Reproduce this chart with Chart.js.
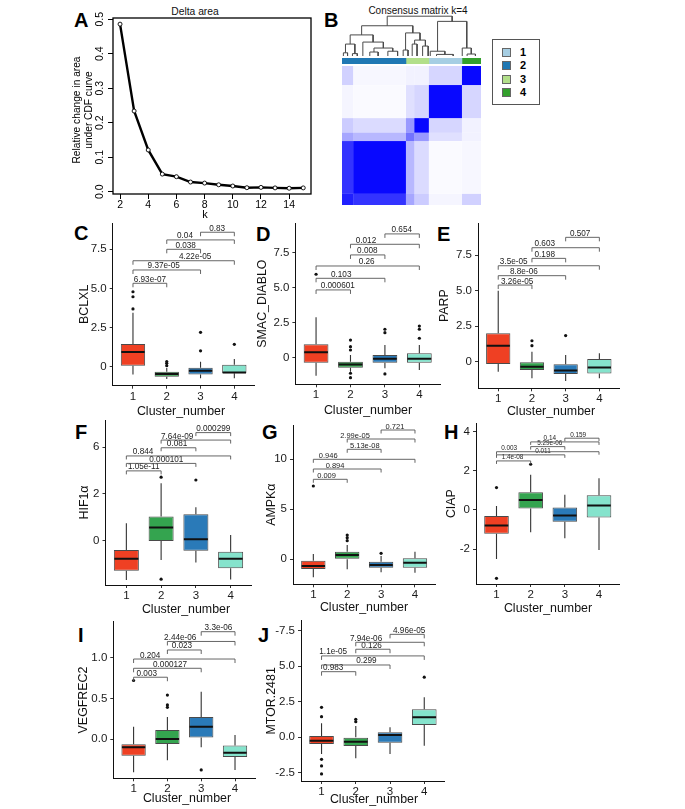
<!DOCTYPE html>
<html>
<head>
<meta charset="utf-8">
<script src="https://cdn.jsdelivr.net/npm/chart.js@4.4.1/dist/chart.umd.min.js"></script>
<style>
html, body { margin: 0; padding: 0; background: #fff; }
body { width: 685px; height: 809px; position: relative; overflow: hidden; font-family: "Liberation Sans", Arial, sans-serif; }
canvas { position: absolute; }
.letter { position: absolute; font-weight: bold; font-size: 20px; line-height: 20px; color: #000; }
.ttl { position: absolute; white-space: nowrap; color: #111; transform: translate(-50%, -50%); }
#legend { position: absolute; left: 492px; top: 39px; width: 48px; height: 66px; border: 1px solid #555; box-sizing: border-box; }
.lg-row { position: absolute; left: 0; height: 12px; }
.lg-sq { position: absolute; left: 9px; top: 1px; width: 9px; height: 9px; border: 1px solid #666; box-sizing: border-box; }
.lg-tx { position: absolute; left: 27px; top: -1px; font-size: 11px; font-weight: bold; line-height: 12px; }
</style>
</head>
<body>
<div class="letter" style="left:74px;top:10px">A</div>
<div class="letter" style="left:324px;top:10px">B</div>
<div class="letter" style="left:74px;top:223px">C</div>
<div class="letter" style="left:256px;top:224px">D</div>
<div class="letter" style="left:437px;top:224px">E</div>
<div class="letter" style="left:75px;top:422px">F</div>
<div class="letter" style="left:262px;top:422px">G</div>
<div class="letter" style="left:444px;top:422px">H</div>
<div class="letter" style="left:78px;top:625px">I</div>
<div class="letter" style="left:258px;top:625px">J</div>
<div class="ttl" style="left:195px;top:11px;font-size:10.3px">Delta area</div>
<div class="ttl" style="left:418px;top:10px;font-size:10px">Consensus matrix k=4</div>
<div id="legend"></div>
<script>
// ---- panel A: delta area ----
const kValues = [2, 3, 4, 5, 6, 7, 8, 9, 10, 11, 12, 13, 14, 15];
const deltaArea = [0.486, 0.234, 0.121, 0.051, 0.0435, 0.028, 0.025, 0.020, 0.0165, 0.0116, 0.0125, 0.011, 0.010, 0.011];
const kTicks = [2, 4, 6, 8, 10, 12, 14];
const deltaTicks = [0, 0.1, 0.2, 0.3, 0.4, 0.5];
const deltaTickLabels = ['0.0', '0.1', '0.2', '0.3', '0.4', '0.5'];

// ---- panel B: consensus matrix ----
const clusterOrder = [2, 3, 1, 4];
const clusterShare = [46, 16.5, 23.8, 13.7];
const clusterColors = {1: '#A6CEE3', 2: '#1F78B4', 3: '#B2DF8A', 4: '#33A02C'};
const matrixGroupShare = [8, 38, 6, 10.5, 23.8, 13.7];
const consensus = [
  [0.88, 0.80, 0.35, 0.20, 0.04, 0.18],
  [0.80, 0.97, 0.28, 0.14, 0.02, 0.03],
  [0.35, 0.28, 0.55, 0.40, 0.12, 0.05],
  [0.20, 0.14, 0.40, 0.97, 0.16, 0.05],
  [0.04, 0.02, 0.12, 0.16, 0.97, 0.16],
  [0.18, 0.03, 0.05, 0.05, 0.16, 0.97]
];
const dendroLeafX = [1, 4, 7.5, 11, 15, 20, 26, 33, 40, 44, 47.5, 50.5, 54, 58, 62, 63.5, 68, 80, 86.5, 90, 96];
const dendroMerges = [
  ['L0', 'L1', 0.08], ['L2', 'L3', 0.06], ['N0', 'N1', 0.3], ['L5', 'L6', 0.1],
  ['L7', 'L8', 0.12], ['N3', 'N4', 0.2], ['L4', 'N5', 0.35], ['N2', 'N6', 0.53],
  ['L9', 'L10', 0.15], ['L11', 'L12', 0.3], ['L13', 'L14', 0.25], ['N9', 'N10', 0.4],
  ['N8', 'N11', 0.58], ['N7', 'N12', 0.76], ['L16', 'L17', 0.04], ['L15', 'N14', 0.12],
  ['L19', 'L20', 0.05], ['L18', 'N16', 0.2], ['N15', 'N17', 0.87], ['N13', 'N18', 1.0]
];

// ---- boxplots: [lower whisker, q1, median, q3, upper whisker] per cluster ----
const clusters = [1, 2, 3, 4];
const boxColors = ['#EF4023', '#34A44F', '#2A7AB8', '#85E3CC'];
const comparisons = [[1, 2], [1, 3], [1, 4], [2, 3], [2, 4], [3, 4]];

const bclxlBox = [[-0.49, 0.07, 0.94, 1.45, 3.45], [-0.79, -0.64, -0.47, -0.32, -0.08], [-0.74, -0.49, -0.26, -0.06, 0.32], [-0.74, -0.42, -0.36, 0.13, 0.49]];
const bclxlOut = [[3.69, 4.47, 4.79], [0.07, 0.22, 0.33], [1.02, 2.2], [1.43]];
const bclxlP = ['6.93e-07', '9.37e-05', '4.22e-05', '0.038', '0.04', '0.83'];
const bclxlBracketY = [5.33, 6.18, 6.77, 7.50, 8.10, 8.59];
const bclxlLabelX = [1.5, 1.91, 2.84, 2.56, 2.54, 3.49];
const bclxlTicks = [0, 2.5, 5, 7.5];
const bclxlTickLabels = ['0', '2.5', '5.0', '7.5'];

const smacBox = [[-1.29, -0.36, 0.39, 0.96, 2.89], [-1.0, -0.71, -0.48, -0.29, 0.19], [-0.76, -0.36, -0.07, 0.19, 0.9], [-0.88, -0.36, -0.07, 0.31, 0.9]];
const smacOut = [[5.96], [1.26, 0.79, 0.55, -1.11, -1.43], [2.03, 1.79, -1.16], [2.26, 2.03, 1.39]];
const smacP = ['0.000601', '0.103', '0.26', '0.008', '0.012', '0.654'];
const smacBracketY = [4.84, 5.67, 6.55, 7.34, 8.1, 8.84];
const smacLabelX = [1.63, 1.73, 2.47, 2.49, 2.45, 3.49];
const smacTicks = [0, 2.5, 5, 7.5];
const smacTickLabels = ['0', '2.5', '5.0', '7.5'];

const parpBox = [[-0.7, -0.16, 1.13, 2.0, 5.0], [-1.17, -0.58, -0.35, -0.04, 0.7], [-1.36, -0.87, -0.61, -0.18, 0.47], [-1.17, -0.82, -0.4, 0.19, 0.59]];
const parpOut = [[], [1.48, 1.13], [1.84], []];
const parpP = ['3.26e-05', '8.8e-06', '3.5e-05', '0.198', '0.603', '0.507'];
const parpBracketY = [5.40, 6.06, 6.76, 7.28, 8.03, 8.76];
const parpLabelX = [1.56, 1.76, 1.46, 2.38, 2.38, 3.43];
const parpTicks = [0, 2.5, 5, 7.5];
const parpTickLabels = ['0', '2.5', '5.0', '7.5'];

const hifBox = [[-1.69, -1.29, -0.77, -0.4, 0.75], [-0.83, -0.01, 0.56, 1.03, 2.46], [-0.94, -0.43, 0.06, 1.13, 1.43], [-1.66, -1.18, -0.77, -0.47, 0.24]];
const hifOut = [[], [2.72, -1.65], [2.6], []];
const hifP = ['1.05e-11', '0.000101', '0.844', '0.081', '7.64e-09', '0.000299'];
const hifBracketY = [2.99, 3.31, 3.63, 3.98, 4.31, 4.63];
const hifLabelX = [1.5, 2.15, 1.48, 2.46, 2.46, 3.5];
const hifTicks = [0, 2, 4];
const hifTickLabels = ['0', '2', '6'];

const ampkBox = [[-1.8, -0.97, -0.67, -0.14, 0.53], [-1.0, 0.0, 0.43, 0.76, 1.43], [-1.3, -0.84, -0.57, -0.24, 0.33], [-1.34, -0.84, -0.34, 0.1, 0.76]];
const ampkOut = [[7.33], [2.43, 2.16, 1.86], [0.6], []];
const ampkP = ['0.009', '0.894', '0.946', '5.13e-08', '2.99e-05', '0.721'];
const ampkBracketY = [8.0, 9.03, 10.0, 11.0, 12.03, 12.93];
const ampkLabelX = [1.39, 1.64, 1.44, 2.52, 2.23, 3.41];
const ampkTicks = [0, 5, 10];
const ampkTickLabels = ['0', '5', '10'];

const ciapBox = [[-2.5, -1.22, -0.8, -0.31, 0.2], [-1.14, 0.07, 0.51, 0.9, 1.79], [-1.44, -0.6, -0.29, 0.12, 0.77], [-2.04, -0.39, 0.22, 0.75, 1.62]];
const ciapOut = [[1.14, -3.49], [2.33], [], []];
const ciapP = ['1.4e-08', '0.011', '0.003', '5.29e-06', '0.14', '0.159'];
const ciapBracketY = [2.5, 2.81, 2.97, 3.23, 3.47, 3.66];
const ciapLabelX = [1.47, 2.36, 1.37, 2.56, 2.56, 3.39];
const ciapTicks = [-2, 0, 2, 4];
const ciapTickLabels = ['-2', '0', '2', '4'];

const vegfBox = [[-0.41, -0.205, -0.1, -0.065, 0.15], [-0.26, -0.06, 0.0, 0.11, 0.27], [-0.1, 0.02, 0.15, 0.27, 0.58], [-0.38, -0.22, -0.17, -0.08, 0.05]];
const vegfOut = [[0.72], [0.54, 0.42, 0.39], [-0.38], []];
const vegfP = ['0.003', '0.000127', '0.204', '0.023', '2.44e-06', '3.3e-06'];
const vegfBracketY = [0.76, 0.87, 0.984, 1.095, 1.20, 1.32];
const vegfLabelX = [1.39, 2.08, 1.49, 2.43, 2.38, 3.51];
const vegfTicks = [0, 0.5, 1];
const vegfTickLabels = ['0.0', '0.5', '1.0'];

const mtorBox = [[-1.18, -0.47, -0.24, 0.09, 0.99], [-1.48, -0.61, -0.31, 0.0, 0.8], [-1.18, -0.38, 0.16, 0.35, 0.7], [-0.59, 0.87, 1.41, 1.97, 2.82]];
const mtorOut = [[2.11, 1.45, -1.55, -2.02, -2.58], [1.27, 1.1], [], [4.23]];
const mtorP = ['0.983', '0.299', '1.1e-05', '0.126', '7.94e-06', '4.96e-05'];
const mtorBracketY = [4.62, 5.09, 5.73, 6.2, 6.69, 7.25];
const mtorLabelX = [1.34, 2.31, 1.34, 2.46, 2.3, 3.56];
const mtorTicks = [-2.5, 0, 2.5, 5, 7.5];
const mtorTickLabels = ['-2.5', '0.0', '2.5', '5.0', '-7.5'];

const FONT = '"Liberation Sans", Arial, sans-serif';
Chart.defaults.font.family = FONT;
Chart.defaults.color = '#1a1a1a';
Chart.defaults.animation = false;
Chart.defaults.responsive = false;
Chart.defaults.plugins.legend.display = false;
Chart.defaults.plugins.tooltip.enabled = false;

function addCanvas(left, top, w, h) {
  const c = document.createElement('canvas');
  c.width = w; c.height = h;
  c.style.left = left + 'px'; c.style.top = top + 'px';
  c.style.width = w + 'px'; c.style.height = h + 'px';
  document.body.appendChild(c);
  return c;
}

// legend of panel B
const legend = document.getElementById('legend');
[1, 2, 3, 4].forEach((c, i) => {
  const row = document.createElement('div');
  row.className = 'lg-row';
  row.style.top = (7 + i * 13.3) + 'px';
  row.innerHTML = '<div class="lg-sq" style="background:' + clusterColors[c] + '"></div><div class="lg-tx">' + c + '</div>';
  legend.appendChild(row);
});

// ---------- panel A ----------
const aLeft = 40, aTop = 0, aW = 290, aH = 225;
const aArea = {L: 113, T: 18, R: 311, B: 194};
const deltaDecor = {
  id: 'deltaDecor',
  afterDraw(chart) {
    const {ctx, chartArea: a, scales: {y}} = chart;
    ctx.save();
    ctx.strokeStyle = '#000';
    ctx.lineWidth = 1.3;
    ctx.strokeRect(a.left, a.top, a.right - a.left, a.bottom - a.top);
    ctx.fillStyle = '#000';
    ctx.font = '10.5px ' + FONT;
    ctx.textAlign = 'center';
    ctx.textBaseline = 'bottom';
    deltaTicks.forEach((v, i) => {
      ctx.save();
      ctx.translate(a.left - 8, y.getPixelForValue(v));
      ctx.rotate(-Math.PI / 2);
      ctx.fillText(deltaTickLabels[i], 0, 0);
      ctx.restore();
    });
    ctx.font = '11px ' + FONT;
    ctx.textBaseline = 'middle';
    ctx.fillText('k', 205 - aLeft, 215 - aTop);
    ctx.font = '10.2px ' + FONT;
    [['Relative change in area', 77], ['under CDF curve', 89]].forEach(([t, px]) => {
      ctx.save();
      ctx.translate(px - aLeft, 110 - aTop);
      ctx.rotate(-Math.PI / 2);
      ctx.fillText(t, 0, 0);
      ctx.restore();
    });
    ctx.restore();
  }
};
new Chart(addCanvas(aLeft, aTop, aW, aH), {
  type: 'line',
  data: {datasets: [{
    data: kValues.map((k, i) => ({x: k, y: deltaArea[i]})),
    borderColor: '#000', borderWidth: 2.4, tension: 0,
    pointRadius: 2, pointBackgroundColor: '#fff', pointBorderColor: '#000', pointBorderWidth: 0.9
  }]},
  options: {
    layout: {padding: {left: 0, top: aArea.T - aTop, right: aLeft + aW - aArea.R, bottom: 0}},
    scales: {
      x: {
        type: 'linear', min: 1.5, max: 15.55,
        afterBuildTicks: s => { s.ticks = kTicks.map(v => ({value: v})); },
        afterFit: s => { s.height = aTop + aH - aArea.B; },
        ticks: {font: {size: 10.5}, color: '#000', padding: 0, maxRotation: 0},
        grid: {drawOnChartArea: false, tickLength: 5, color: '#000'},
        border: {display: false}
      },
      y: {
        type: 'linear', min: -0.0067, max: 0.5038,
        afterBuildTicks: s => { s.ticks = deltaTicks.map(v => ({value: v})); },
        afterFit: s => { s.width = aArea.L - aLeft; },
        ticks: {display: false},
        grid: {drawOnChartArea: false, tickLength: 5, color: '#000'},
        border: {display: false}
      }
    }
  },
  plugins: [deltaDecor]
});

// ---------- panel B ----------
const hmLeft = 342, hmW = 139;
// dendrogram
const nodeX = {}, nodeH = {};
dendroLeafX.forEach((x, i) => { nodeX['L' + i] = x; nodeH['L' + i] = 0; });
dendroMerges.forEach(([a, b, h], i) => { nodeX['N' + i] = (nodeX[a] + nodeX[b]) / 2; nodeH['N' + i] = h; });
new Chart(addCanvas(hmLeft, 15, hmW, 43), {
  type: 'scatter',
  data: {datasets: dendroMerges.map(([a, b, h]) => ({
    data: [{x: nodeX[a], y: nodeH[a]}, {x: nodeX[a], y: h}, {x: nodeX[b], y: h}, {x: nodeX[b], y: nodeH[b]}],
    showLine: true, borderColor: '#4a4a4a', borderWidth: 1, pointRadius: 0, clip: false
  }))},
  options: {
    layout: {padding: 0},
    scales: {x: {display: false, min: 0, max: 100}, y: {display: false, min: -0.05, max: 1.03}}
  }
});
// cluster colour bar
new Chart(addCanvas(hmLeft, 58, hmW, 6), {
  type: 'bar',
  data: {labels: [''], datasets: clusterOrder.map((c, i) => ({
    data: [clusterShare[i]], backgroundColor: clusterColors[c], borderWidth: 0,
    barPercentage: 1, categoryPercentage: 1
  }))},
  options: {
    indexAxis: 'y',
    layout: {padding: 0},
    scales: {x: {display: false, stacked: true, min: 0, max: 100}, y: {display: false, stacked: true}}
  }
});
// heatmap
const groupStart = [];
matrixGroupShare.reduce((acc, v) => { groupStart.push(acc); return acc + v; }, 0);
const heatCells = {
  id: 'heatCells',
  beforeDatasetsDraw(chart) {
    const {ctx, scales: {x, y}} = chart;
    ctx.save();
    consensus.forEach((row, i) => row.forEach((v, j) => {
      const x0 = x.getPixelForValue(groupStart[j]), x1 = x.getPixelForValue(groupStart[j] + matrixGroupShare[j]);
      const y0 = y.getPixelForValue(groupStart[i]), y1 = y.getPixelForValue(groupStart[i] + matrixGroupShare[i]);
      ctx.fillStyle = 'rgba(0,0,255,' + v + ')';
      ctx.fillRect(x0, Math.min(y0, y1), x1 - x0, Math.abs(y1 - y0));
    }));
    ctx.restore();
  }
};
new Chart(addCanvas(hmLeft, 66, hmW, 139), {
  type: 'scatter',
  data: {datasets: [{data: []}]},
  options: {
    layout: {padding: 0},
    scales: {x: {display: false, min: 0, max: 100}, y: {display: false, min: 0, max: 100}}
  },
  plugins: [heatCells]
});

// ---------- boxplot panels ----------
const boxPanels = [
  {title: 'BCLXL', box: bclxlBox, out: bclxlOut, p: bclxlP, bracketY: bclxlBracketY, labelX: bclxlLabelX, ticks: bclxlTicks, tickLabels: bclxlTickLabels, yMin: -1.21, yMax: 9.18,
   lay: {L: 112.7, T: 223, R: 254.6, B: 385.7, yTitleX: 85, xTitleX: 181, xTitleY: 412, pFont: 8.2, tip: 4}},
  {title: 'SMAC_DIABLO', box: smacBox, out: smacOut, p: smacP, bracketY: smacBracketY, labelX: smacLabelX, ticks: smacTicks, tickLabels: smacTickLabels, yMin: -1.9, yMax: 9.62,
   lay: {L: 295.4, T: 223, R: 440, B: 384.3, yTitleX: 263, xTitleX: 368, xTitleY: 410.5, pFont: 8.2, tip: 4}},
  {title: 'PARP', box: parpBox, out: parpOut, p: parpP, bracketY: parpBracketY, labelX: parpLabelX, ticks: parpTicks, tickLabels: parpTickLabels, yMin: -1.87, yMax: 9.77,
   lay: {L: 478, T: 223, R: 619.6, B: 388.3, yTitleX: 445, xTitleX: 551, xTitleY: 412, pFont: 8.2, tip: 4}},
  {title: 'HIF1α', box: hifBox, out: hifOut, p: hifP, bracketY: hifBracketY, labelX: hifLabelX, ticks: hifTicks, tickLabels: hifTickLabels, yMin: -1.9, yMax: 5.17,
   lay: {L: 105.5, T: 420, R: 251.5, B: 585, yTitleX: 85, xTitleX: 186, xTitleY: 610, pFont: 8.2, tip: 3.5}},
  {title: 'AMPKα', box: ampkBox, out: ampkOut, p: ampkP, bracketY: ampkBracketY, labelX: ampkLabelX, ticks: ampkTicks, tickLabels: ampkTickLabels, yMin: -2.5, yMax: 13.43,
   lay: {L: 293, T: 425, R: 435.3, B: 584.3, yTitleX: 272, xTitleX: 364, xTitleY: 608, pFont: 7.5, tip: 3.5}},
  {title: 'CIAP', box: ciapBox, out: ciapOut, p: ciapP, bracketY: ciapBracketY, labelX: ciapLabelX, ticks: ciapTicks, tickLabels: ciapTickLabels, yMin: -3.78, yMax: 4.42,
   lay: {L: 476, T: 423.3, R: 619.5, B: 584, yTitleX: 451.7, xTitleX: 548, xTitleY: 609, pFont: 6.4, tip: 3}},
  {title: 'VEGFREC2', box: vegfBox, out: vegfOut, p: vegfP, bracketY: vegfBracketY, labelX: vegfLabelX, ticks: vegfTicks, tickLabels: vegfTickLabels, yMin: -0.483, yMax: 1.443,
   lay: {L: 113.3, T: 621.7, R: 255.3, B: 778.3, yTitleX: 84, xTitleX: 187, xTitleY: 799, pFont: 8.2, tip: 4}},
  {title: 'MTOR.2481', box: mtorBox, out: mtorOut, p: mtorP, bracketY: mtorBracketY, labelX: mtorLabelX, ticks: mtorTicks, tickLabels: mtorTickLabels, yMin: -3.08, yMax: 8.21,
   lay: {L: 301, T: 620.7, R: 444.8, B: 781, yTitleX: 272, xTitleX: 374, xTitleY: 800, pFont: 8.2, tip: 4}}
];

function boxDecor(d, left, top) {
  return {
    id: 'boxDecor',
    beforeDatasetsDraw(chart) {
      const {ctx, scales: {x, y}} = chart;
      ctx.save();
      ctx.strokeStyle = '#333';
      ctx.lineWidth = 1.1;
      ctx.beginPath();
      d.box.forEach((b, i) => {
        const px = x.getPixelForValue(clusters[i]);
        ctx.moveTo(px, y.getPixelForValue(b[0])); ctx.lineTo(px, y.getPixelForValue(b[1]));
        ctx.moveTo(px, y.getPixelForValue(b[3])); ctx.lineTo(px, y.getPixelForValue(b[4]));
      });
      ctx.stroke();
      ctx.restore();
    },
    afterDatasetsDraw(chart) {
      const {ctx, scales: {x, y}} = chart;
      const bars = chart.getDatasetMeta(0).data;
      ctx.save();
      ctx.strokeStyle = '#111';
      ctx.lineWidth = 2;
      ctx.beginPath();
      bars.forEach((bar, i) => {
        const py = y.getPixelForValue(d.box[i][2]);
        ctx.moveTo(bar.x - bar.width / 2 + 0.5, py); ctx.lineTo(bar.x + bar.width / 2 - 0.5, py);
      });
      ctx.stroke();
      // significance brackets
      ctx.strokeStyle = '#555';
      ctx.lineWidth = 0.9;
      ctx.fillStyle = '#222';
      ctx.font = d.lay.pFont + 'px ' + FONT;
      ctx.textAlign = 'center';
      ctx.textBaseline = 'alphabetic';
      comparisons.forEach(([a, b], j) => {
        const xa = x.getPixelForValue(a), xb = x.getPixelForValue(b), py = y.getPixelForValue(d.bracketY[j]);
        ctx.beginPath();
        ctx.moveTo(xa, py + d.lay.tip); ctx.lineTo(xa, py); ctx.lineTo(xb, py); ctx.lineTo(xb, py + d.lay.tip);
        ctx.stroke();
        ctx.fillText(d.p[j], x.getPixelForValue(d.labelX[j]), py - 1.5);
      });
      ctx.restore();
    },
    afterDraw(chart) {
      const {ctx} = chart;
      const L = d.lay;
      ctx.save();
      ctx.fillStyle = '#111';
      ctx.font = '12.4px ' + FONT;
      ctx.textAlign = 'center';
      ctx.textBaseline = 'middle';
      ctx.fillText('Cluster_number', L.xTitleX - left, L.xTitleY - top);
      ctx.translate(L.yTitleX - left, (L.T + L.B) / 2 - top);
      ctx.rotate(-Math.PI / 2);
      ctx.fillText(d.title, 0, 0);
      ctx.restore();
    }
  };
}

boxPanels.forEach(d => {
  const L = d.lay;
  const left = Math.round(L.L - 60), top = Math.round(L.T - 12);
  const width = Math.round(L.R + 8 - left), height = Math.round(L.B + 42 - top);
  const bars = clusters.map((c, i) => ({x: c, y: [d.box[i][1], d.box[i][3]]}));
  const pts = [];
  d.out.forEach((arr, i) => arr.forEach(v => pts.push({x: clusters[i], y: v})));
  const axisCommon = {
    grid: {display: true, drawOnChartArea: false, drawTicks: true, tickLength: 3, color: '#333', offset: false},
    border: {display: true, color: '#111', width: 1}
  };
  new Chart(addCanvas(left, top, width, height), {
    type: 'bar',
    data: {datasets: [
      {type: 'bar', data: bars, backgroundColor: boxColors, borderColor: '#4a4a4a', borderWidth: 1,
       borderSkipped: false, barPercentage: 0.72, categoryPercentage: 1, order: 2},
      {type: 'scatter', data: pts, pointRadius: 1.6, pointBackgroundColor: '#111', pointBorderWidth: 0, order: 1}
    ]},
    options: {
      layout: {padding: {left: 0, top: L.T - top, right: left + width - L.R, bottom: 0}},
      scales: {
        x: Object.assign({
          type: 'linear', min: 0.4, max: 4.6, offset: false,
          afterBuildTicks: s => { s.ticks = clusters.map(v => ({value: v})); },
          afterFit: s => { s.height = top + height - L.B; },
          ticks: {font: {size: 11.5}, color: '#1a1a1a', padding: 1, maxRotation: 0}
        }, axisCommon),
        y: Object.assign({
          type: 'linear', min: d.yMin, max: d.yMax,
          afterBuildTicks: s => { s.ticks = d.ticks.map(v => ({value: v})); },
          afterFit: s => { s.width = L.L - left; },
          ticks: {font: {size: 11.5}, color: '#1a1a1a', padding: 3, callback: (v, i) => d.tickLabels[i]}
        }, axisCommon)
      }
    },
    plugins: [boxDecor(d, left, top)]
  });
});
</script>
</body>
</html>
